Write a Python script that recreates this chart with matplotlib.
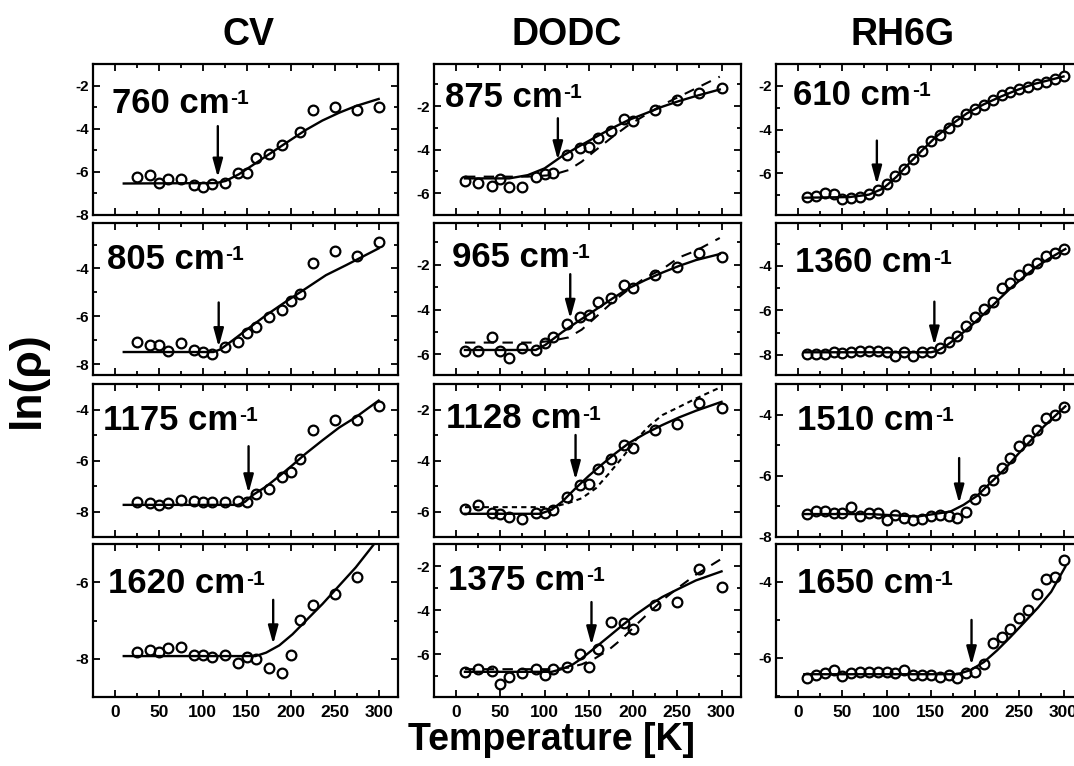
import matplotlib
matplotlib.use('Agg')
import matplotlib.pyplot as plt
from matplotlib.ticker import MultipleLocator

plt.rcParams['font.family'] = ['Liberation Sans', 'DejaVu Sans']
plt.rcParams['font.weight'] = 'bold'
plt.rcParams['axes.unicode_minus'] = False

# ---------------- data ----------------
dye_names = ['CV', 'DODC', 'RH6G']
x_ticks = [0, 50, 100, 150, 200, 250, 300]

# CV
T_cv = [25, 40, 50, 60, 75, 90, 100, 110, 125, 140, 150, 160, 175, 190, 200, 210, 225, 250, 275, 300]
T_cv760 = [25, 40, 50, 60, 75, 90, 100, 110, 125, 140, 150, 160, 175, 190, 210, 225, 250, 275, 300]
cv760 = [-6.26, -6.15, -6.52, -6.31, -6.31, -6.62, -6.72, -6.57, -6.52, -6.03, -6.03, -5.38, -5.15, -4.77, -4.15, -3.11, -2.98, -3.11, -2.98]
cv805 = [-7.07, -7.21, -7.21, -7.46, -7.11, -7.39, -7.49, -7.56, -7.28, -7.07, -6.69, -6.44, -6.02, -5.74, -5.37, -5.07, -3.79, -3.27, -3.47, -2.88]
cv1175 = [-7.61, -7.67, -7.74, -7.67, -7.54, -7.57, -7.64, -7.62, -7.63, -7.57, -7.64, -7.31, -7.11, -6.66, -6.46, -5.96, -4.79, -4.40, -4.40, -3.88]
T_cv1620 = [25, 40, 50, 60, 75, 90, 100, 110, 125, 140, 150, 160, 175, 190, 200, 210, 225, 250, 275]
cv1620 = [-7.82, -7.77, -7.82, -7.73, -7.68, -7.91, -7.91, -7.96, -7.91, -8.11, -7.96, -8.00, -8.24, -8.37, -7.89, -6.99, -6.59, -6.31, -5.85]

fitT_cv760 = [10, 115, 126, 141, 160, 179, 198, 217, 236, 255, 274, 300]
fit_cv760 = [-6.54, -6.52, -6.42, -6.11, -5.60, -5.08, -4.57, -4.06, -3.62, -3.26, -2.95, -2.62]
fitT_cv805 = [10, 112, 120, 134, 149, 172, 195, 217, 240, 263, 300]
fit_cv805 = [-7.49, -7.49, -7.38, -7.00, -6.58, -5.95, -5.37, -4.84, -4.28, -3.86, -3.16]
fitT_cv1175 = [10, 140, 148, 157, 172, 187, 202, 217, 236, 255, 274, 300]
fit_cv1175 = [-7.74, -7.74, -7.62, -7.35, -7.02, -6.61, -6.18, -5.73, -5.21, -4.71, -4.30, -3.65]
fitT_cv1620 = [10, 160, 172, 187, 202, 217, 236, 255, 274, 300]
fit_cv1620 = [-7.93, -7.93, -7.84, -7.65, -7.36, -7.01, -6.57, -6.09, -5.61, -4.85]

# DODC
T_dodc = [10, 25, 40, 50, 60, 75, 90, 100, 110, 125, 140, 150, 160, 175, 190, 200, 225, 250, 275, 300]
dodc875 = [-5.43, -5.52, -5.67, -5.36, -5.70, -5.70, -5.27, -5.13, -5.09, -4.25, -3.94, -3.90, -3.48, -3.15, -2.61, -2.69, -2.18, -1.72, -1.39, -1.19]
dodc965 = [-5.84, -5.84, -5.24, -5.84, -6.18, -5.73, -5.81, -5.51, -5.24, -4.65, -4.35, -4.23, -3.66, -3.47, -2.92, -3.05, -2.45, -2.12, -1.49, -1.64]
dodc1128 = [-5.91, -5.74, -6.06, -6.10, -6.23, -6.28, -6.06, -6.04, -5.96, -5.44, -4.98, -4.92, -4.34, -3.95, -3.39, -3.52, -2.81, -2.55, -1.73, -1.96]
dodc1375 = [-6.79, -6.64, -6.74, -7.36, -7.04, -6.86, -6.68, -6.94, -6.67, -6.56, -6.00, -6.56, -5.76, -4.53, -4.56, -4.83, -3.78, -3.63, -2.12, -2.95]

fitT_dodc875 = [10, 60, 81, 100, 119, 138, 157, 176, 195, 214, 233, 252, 271, 298]
fit_dodc875 = [-5.32, -5.32, -5.17, -4.86, -4.32, -3.87, -3.44, -3.02, -2.64, -2.34, -2.03, -1.77, -1.54, -1.24]
altT_dodc875 = [10, 81, 108, 127, 142, 157, 176, 195, 214, 233, 252, 271, 298]
alt_dodc875 = [-5.24, -5.24, -5.17, -4.94, -4.55, -4.05, -3.44, -2.87, -2.41, -1.95, -1.57, -1.19, -0.65]
fitT_dodc965 = [10, 90, 101, 120, 139, 158, 177, 195, 214, 233, 252, 271, 298]
fit_dodc965 = [-5.81, -5.81, -5.58, -5.01, -4.50, -4.00, -3.50, -3.05, -2.68, -2.35, -2.05, -1.79, -1.52]
altT_dodc965 = [10, 90, 108, 127, 142, 161, 177, 195, 214, 233, 252, 271, 298]
alt_dodc965 = [-5.48, -5.48, -5.40, -5.25, -4.90, -4.23, -3.66, -3.10, -2.57, -2.20, -1.67, -1.37, -0.80]
fitT_dodc1128 = [10, 95, 108, 120, 135, 150, 165, 180, 196, 214, 233, 252, 271, 300]
fit_dodc1128 = [-6.09, -6.09, -5.93, -5.61, -5.09, -4.60, -4.15, -3.72, -3.30, -2.94, -2.61, -2.31, -2.05, -1.70]
altT_dodc1128 = [10, 108, 127, 142, 158, 173, 188, 203, 218, 233, 252, 271, 300]
alt_dodc1128 = [-5.83, -5.83, -5.67, -5.48, -5.09, -4.50, -3.88, -3.20, -2.65, -2.22, -1.90, -1.57, -1.11]
fitT_dodc1375 = [10, 108, 119, 131, 142, 157, 172, 188, 203, 218, 233, 252, 271, 300]
fit_dodc1375 = [-6.79, -6.79, -6.67, -6.48, -6.18, -5.70, -5.21, -4.68, -4.20, -3.78, -3.40, -3.02, -2.65, -2.24]
altT_dodc1375 = [10, 108, 127, 142, 157, 172, 188, 203, 218, 233, 252, 271, 300]
alt_dodc1375 = [-6.67, -6.67, -6.60, -6.45, -6.18, -5.81, -5.28, -4.68, -4.11, -3.55, -2.95, -2.39, -1.67]

# RH6G
T_rh = [10, 20, 30, 40, 50, 60, 70, 80, 90, 100, 110, 120, 130, 140, 150,
        160, 170, 180, 190, 200, 210, 220, 230, 240, 250, 260, 270, 280, 290, 300]
rh610 = [-7.08, -7.05, -6.89, -6.95, -7.15, -7.12, -7.08, -6.95, -6.74, -6.50, -6.13, -5.82, -5.36, -4.97, -4.51,
         -4.25, -3.94, -3.59, -3.28, -3.07, -2.87, -2.64, -2.40, -2.28, -2.15, -2.03, -1.90, -1.80, -1.70, -1.57]
rh1360 = [-7.97, -7.95, -7.97, -7.89, -7.92, -7.85, -7.82, -7.82, -7.82, -7.85, -8.03, -7.85, -8.03, -7.88, -7.85,
          -7.70, -7.42, -7.17, -6.71, -6.31, -5.96, -5.61, -4.98, -4.75, -4.41, -4.15, -3.89, -3.55, -3.44, -3.25]
rh1510 = [-7.25, -7.15, -7.15, -7.22, -7.20, -7.03, -7.31, -7.20, -7.20, -7.46, -7.28, -7.37, -7.46, -7.41, -7.33,
          -7.28, -7.33, -7.37, -7.17, -6.77, -6.48, -6.13, -5.75, -5.42, -5.04, -4.82, -4.49, -4.11, -4.00, -3.75]
rh1650 = [-6.52, -6.46, -6.39, -6.31, -6.48, -6.39, -6.37, -6.37, -6.37, -6.37, -6.41, -6.32, -6.46, -6.46, -6.46,
          -6.50, -6.46, -6.54, -6.39, -6.37, -6.17, -5.62, -5.46, -5.23, -4.95, -4.75, -4.33, -3.91, -3.87, -3.43]

fitT_rh610 = [7, 58, 80, 96, 111, 126, 141, 156, 172, 191, 210, 229, 248, 267, 300]
fit_rh610 = [-7.11, -7.08, -6.97, -6.69, -6.16, -5.52, -4.91, -4.32, -3.80, -3.25, -2.84, -2.49, -2.18, -1.91, -1.57]
fitT_rh1360 = [7, 150, 157, 168, 179, 195, 210, 225, 240, 255, 271, 286, 302]
fit_rh1360 = [-7.88, -7.88, -7.82, -7.57, -7.24, -6.71, -6.16, -5.58, -5.01, -4.50, -4.00, -3.62, -3.25]
fitT_rh1510 = [7, 80, 135, 172, 187, 202, 217, 233, 248, 263, 278, 302]
fit_rh1510 = [-7.25, -7.25, -7.33, -7.17, -6.95, -6.66, -6.24, -5.80, -5.31, -4.85, -4.38, -3.73]
fitT_rh1650 = [7, 180, 195, 210, 225, 240, 255, 271, 286, 302]
fit_rh1650 = [-6.43, -6.43, -6.32, -6.11, -5.80, -5.45, -5.08, -4.68, -4.26, -3.60]

# arrows: (T, top, tip)
arrow_cv = [(117, -3.88, -6.26), (118, -5.42, -7.28), (152, -5.44, -7.28), (180, -6.46, -7.62)]
arrow_dodc = [(115, -2.56, -4.48), (129, -2.42, -4.41), (135, -3.0, -4.76), (153, -3.63, -5.58)]
arrow_rh = [(89, -4.5, -6.5), (154, -5.61, -7.57), (182, -5.42, -6.9), (196, -5.0, -6.19)]

# ---------------- layout ----------------
W, H = 1074, 766
fig = plt.figure(figsize=(W / 100, H / 100), dpi=100)
col_left = [93, 434, 776]
col_w = [305, 307, 307]
row_top = [64, 223, 384, 544]
row_bot = [215, 375, 537, 697]

panels = [
    (0, 0, '760', T_cv760, cv760, (fitT_cv760, fit_cv760), None, None, (-8, -1), arrow_cv[0], (0.061, 0.675)),
    (0, 1, '805', T_cv, cv805, (fitT_cv805, fit_cv805), None, None, (-8.45, -2.1), arrow_cv[1], (0.045, 0.70)),
    (0, 2, '1175', T_cv, cv1175, (fitT_cv1175, fit_cv1175), None, None, (-9, -3), arrow_cv[2], (0.034, 0.70)),
    (0, 3, '1620', T_cv1620, cv1620, (fitT_cv1620, fit_cv1620), None, None, (-9, -5), arrow_cv[3], (0.05, 0.678)),
    (1, 0, '875', T_dodc, dodc875, (fitT_dodc875, fit_dodc875), (altT_dodc875, alt_dodc875), (0, (5, 4)), (-7, -0.07), arrow_dodc[0], (0.036, 0.717)),
    (1, 1, '965', T_dodc, dodc965, (fitT_dodc965, fit_dodc965), (altT_dodc965, alt_dodc965), (0, (5, 4)), (-6.93, -0.13), arrow_dodc[1], (0.06, 0.71)),
    (1, 2, '1128', T_dodc, dodc1128, (fitT_dodc1128, fit_dodc1128), (altT_dodc1128, alt_dodc1128), (0, (2.5, 2)), (-7, -1), arrow_dodc[2], (0.04, 0.71)),
    (1, 3, '1375', T_dodc, dodc1375, (fitT_dodc1375, fit_dodc1375), (altT_dodc1375, alt_dodc1375), (0, (5, 4)), (-7.93, -1), arrow_dodc[3], (0.047, 0.70)),
    (2, 0, '610', T_rh, rh610, (fitT_rh610, fit_rh610), None, None, (-7.9, -1), arrow_rh[0], (0.057, 0.73)),
    (2, 1, '1360', T_rh, rh1360, (fitT_rh1360, fit_rh1360), None, None, (-8.9, -2.08), arrow_rh[1], (0.062, 0.676)),
    (2, 2, '1510', T_rh, rh1510, (fitT_rh1510, fit_rh1510), None, None, (-8, -3), arrow_rh[2], (0.068, 0.70)),
    (2, 3, '1650', T_rh, rh1650, (fitT_rh1650, fit_rh1650), None, None, (-7.03, -3), arrow_rh[3], (0.068, 0.678)),
]

for (c, r, lab, T, y, fit, alt, altls, ylim, arr, lpos) in panels:
    l, w = col_left[c], col_w[c]
    t, b = row_top[r], row_bot[r]
    ax = fig.add_axes([l / W, 1 - b / H, w / W, (b - t) / H])
    ax.plot(fit[0], fit[1], color='black', lw=1.7, zorder=2)
    if alt is not None:
        ax.plot(alt[0], alt[1], color='black', lw=1.5, linestyle=altls, zorder=2)
    ax.plot(T, y, linestyle='none', marker='o', ms=7, mfc='none', mec='black', mew=1.6, zorder=3)
    ax.annotate('', xy=(arr[0], arr[2]), xytext=(arr[0], arr[1]),
                arrowprops=dict(arrowstyle='-|>,head_length=1.1,head_width=0.3', mutation_scale=10,
                                lw=1.7, color='black', shrinkA=0, shrinkB=0), zorder=4)
    t1 = ax.text(lpos[0], lpos[1], lab + ' cm', transform=ax.transAxes,
                 fontsize=25, fontweight='bold', ha='left', va='baseline')
    ax.annotate('-1', xy=(1, 0.93), xycoords=t1, xytext=(0.5, 0), textcoords='offset points',
                fontsize=15, fontweight='bold', ha='left', va='top')
    ax.set_xlim(-25, 322)
    ax.set_ylim(*ylim)
    ax.xaxis.set_major_locator(MultipleLocator(50))
    ax.xaxis.set_minor_locator(MultipleLocator(25))
    ax.yaxis.set_major_locator(MultipleLocator(2))
    ax.yaxis.set_minor_locator(MultipleLocator(1))
    ax.tick_params(which='both', direction='in', top=True, right=True, width=1.3)
    ax.tick_params(which='major', length=5)
    ax.tick_params(which='minor', length=3)
    ax.tick_params(axis='y', labelsize=11, pad=3)
    ax.tick_params(axis='x', labelsize=12.5, pad=6)
    for s in ax.spines.values():
        s.set_linewidth(1.6)
    if r == 3:
        ax.set_xticks(x_ticks)
    else:
        ax.tick_params(axis='x', labelbottom=False)
    for tl in ax.get_xticklabels() + ax.get_yticklabels():
        tl.set_fontweight('bold')

# column titles
title_x = [248, 567, 903]
for name, xc in zip(dye_names, title_x):
    fig.text(xc / W, 1 - 35 / H, name, fontsize=27, fontweight='bold', ha='center', va='center')

fig.text(552 / W, 1 - 740 / H, 'Temperature [K]', fontsize=27, fontweight='bold', ha='center', va='center')
fig.text(27 / W, 1 - 380 / H, 'ln(ρ)', fontsize=32, fontweight='bold', ha='center', va='center', rotation=90)

fig.savefig('out.png', dpi=100)
